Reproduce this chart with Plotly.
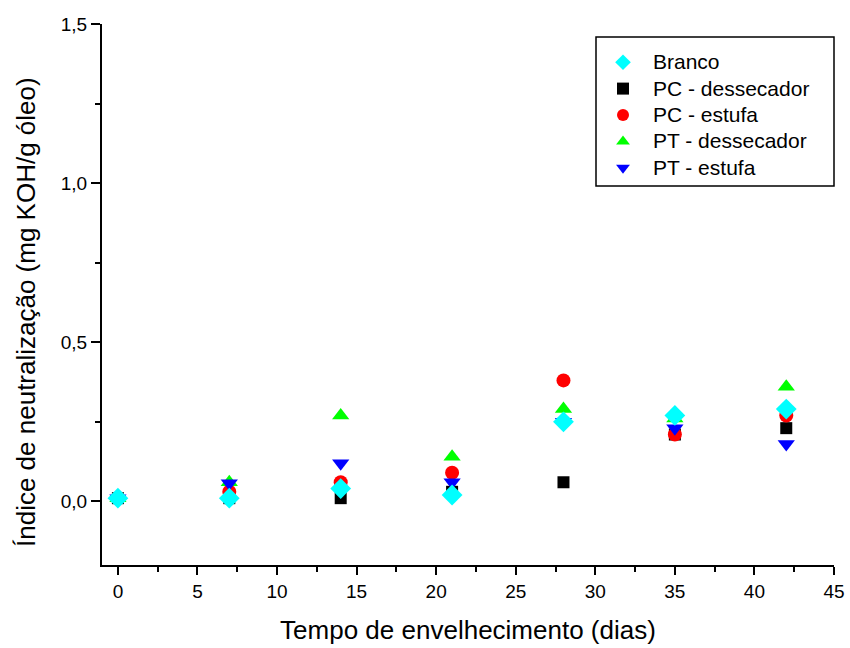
import plotly.graph_objects as go

# Aging time (days)
dias = [0, 7, 14, 21, 28, 35, 42]

# Neutralization index (mg KOH/g oil) per sample
branco = [0.01, 0.01, 0.04, 0.02, 0.25, 0.27, 0.29]
pc_dessecador = [0.01, 0.01, 0.01, 0.03, 0.06, 0.21, 0.23]
pc_estufa = [0.01, 0.03, 0.06, 0.09, 0.38, 0.21, 0.27]
pt_dessecador = [0.01, 0.06, 0.27, 0.14, 0.29, 0.26, 0.36]
pt_estufa = [0.01, 0.057, 0.12, 0.06, 0.25, 0.23, 0.18]

FONT = "Liberation Sans, Arial, sans-serif"

# (name, values, symbol, color, size, legend rank); drawn in this order, Branco on top
series = [
    ("PC - dessecador", pc_dessecador, "square", "black", 12, 2),
    ("PC - estufa", pc_estufa, "circle", "red", 14, 3),
    ("PT - dessecador", pt_dessecador, "triangle-up", "#00ff00", 15, 4),
    ("PT - estufa", pt_estufa, "triangle-down", "blue", 15, 5),
    ("Branco", branco, "diamond", "cyan", 16, 1),
]

fig = go.Figure()
for name, vals, sym, col, size, rank in series:
    fig.add_trace(go.Scatter(
        x=dias, y=vals, mode="markers", legendrank=rank,
        name='<span style="font-size:21px">%s</span>' % name,
        marker=dict(symbol=sym, color=col, size=size, line=dict(width=0)),
    ))

axis_common = dict(
    showline=True, linecolor="black", linewidth=2,
    ticks="outside", tickcolor="black", tickwidth=2,
    showgrid=False, zeroline=False, automargin=False,
    tickfont=dict(family=FONT, size=19, color="black"),
)

fig.update_xaxes(
    range=[-1, 45], tick0=0, dtick=5, ticklen=8,
    minor=dict(ticks="outside", dtick=2.5, tick0=0, ticklen=5, tickwidth=2, tickcolor="black"),
    title=dict(text="Tempo de envelhecimento (dias)", font=dict(family=FONT, size=26, color="black"), standoff=20),
    **axis_common,
)
fig.update_yaxes(
    range=[-0.2, 1.5], tick0=0, dtick=0.5, ticklen=9, tickformat=".1f",
    minor=dict(ticks="outside", dtick=0.25, tick0=0, ticklen=5, tickwidth=2, tickcolor="black"),
    **axis_common,
)

# Y-axis title
fig.add_annotation(
    text="Índice de neutralização (mg KOH/g óleo)", textangle=-90,
    xref="paper", yref="paper", x=(26 - 102) / 732, y=1 - (312 - 24) / 541,
    xanchor="center", yanchor="middle", showarrow=False,
    font=dict(family=FONT, size=26, color="black"),
)

# Legend frame
fig.add_shape(type="rect", xref="paper", yref="paper",
              x0=(596 - 102) / 732, x1=1.0, y0=1 - (186 - 24) / 541, y1=1 - (37 - 24) / 541,
              line=dict(color="black", width=1.5), fillcolor="rgba(0,0,0,0)", layer="above")

fig.update_layout(
    width=850, height=648,
    margin=dict(l=102, r=16, t=24, b=83),
    plot_bgcolor="white", paper_bgcolor="white",
    separators=",.",
    font=dict(family=FONT, color="black"),
    legend=dict(
        x=(593 - 102) / 732, xanchor="left", y=1 - (44 - 24) / 541, yanchor="top",
        borderwidth=0, bgcolor="rgba(0,0,0,0)",
        font=dict(family=FONT, size=18, color="black"),
        tracegroupgap=0, itemwidth=50, itemsizing="constant",
    ),
)

fig.write_html("out.html")
